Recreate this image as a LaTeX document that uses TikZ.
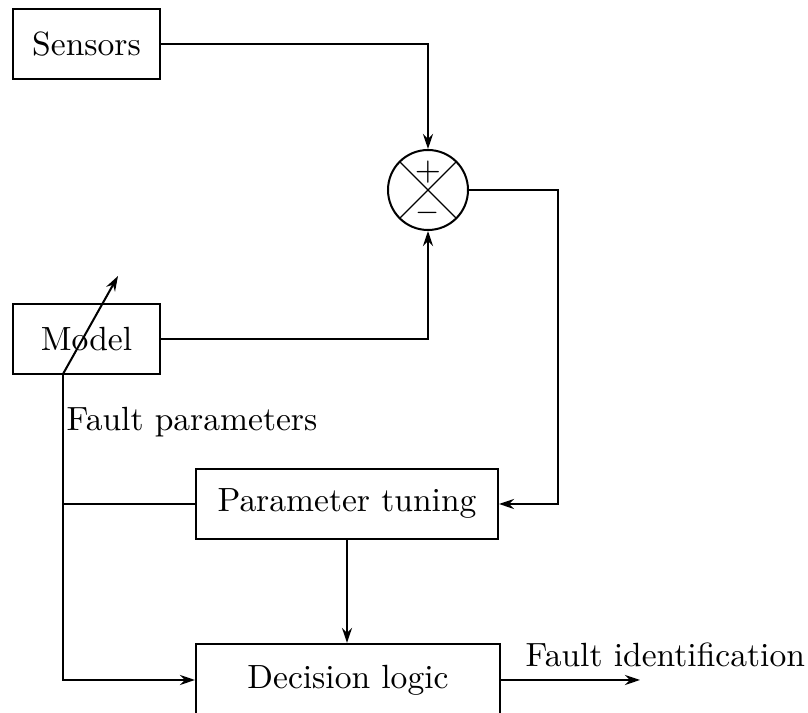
\documentclass[tikz,border=0pt]{standalone}
\usetikzlibrary{arrows.meta}
\begin{document}
\begin{tikzpicture}[x=0.298pt,y=-0.298pt,
  blk/.style={draw,line width=0.6pt,inner sep=0pt,minimum height=20.86pt},
  arr/.style={line width=0.6pt,-{Stealth[length=4.5pt,width=3pt,inset=1.5pt]}},
  ln/.style={line width=0.6pt}]
\useasboundingbox (0,0) rectangle (808,713);
\node[blk,minimum width=43.8pt] (sensors) at (86.5,44) {Sensors};
\node[blk,minimum width=43.8pt] (model) at (86.5,339) {Model};
\node[draw,circle,line width=0.6pt,minimum size=23.84pt,inner sep=0pt] (sum) at (428,190) {};
\draw[line width=0.4pt] (sum.north west) -- (sum.south east);
\draw[line width=0.4pt] (sum.north east) -- (sum.south west);
\node[inner sep=0pt] (plus) at (428,172) {$+$};
\node[inner sep=0pt] (minus) at (428,213) {\small$\mathbf{-}$};
\node[blk,minimum width=90pt] (tuning) at (347,504) {Parameter tuning};
\node[blk,minimum width=90.6pt,minimum height=21.5pt] (logic) at (348,680) {Decision logic};
\node[anchor=west,inner sep=0pt] (fp) at (66,422) {Fault parameters};
\node[anchor=west,inner sep=0pt] (fi) at (525,655) {Fault identification};
\coordinate (c1) at (558,190);
\coordinate (m) at (63,374);
\coordinate (d) at (118,276);
\coordinate (out) at (640,680);
\draw[arr] (sensors.east) -| (sum.north);
\draw[arr] (model.east) -| (sum.south);
\draw[arr] (sum.east) -- (c1) |- (tuning.east);
\draw[arr] (tuning.south) -- (tuning.south |- logic.north);
\draw[arr] (logic.east) -- (out);
\draw[arr] (m) |- (logic.west);
\draw[ln] (tuning.west) -- (tuning.west -| m);
\draw[arr] (m) -- (d);
\end{tikzpicture}
\end{document}
